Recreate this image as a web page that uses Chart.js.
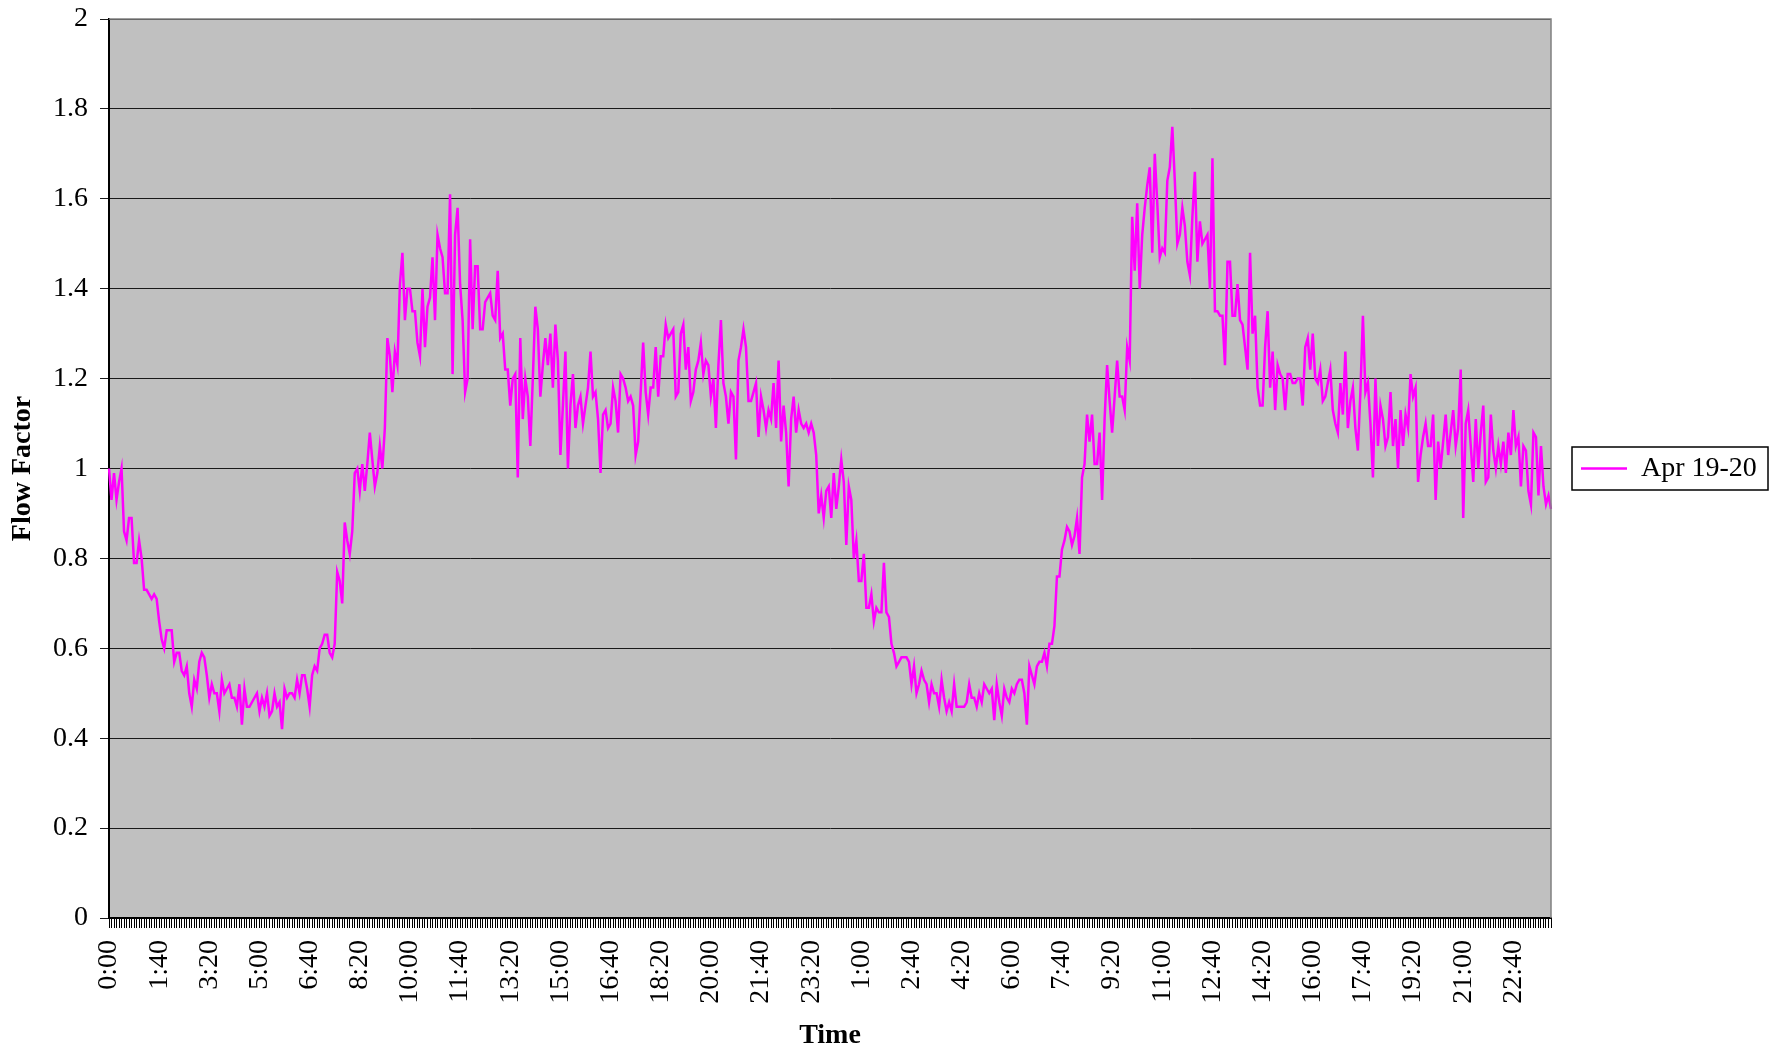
<!DOCTYPE html>
<html>
<head>
<meta charset="utf-8">
<title>Flow Factor</title>
<script src="https://cdn.jsdelivr.net/npm/chart.js@4.4.1/dist/chart.umd.min.js"></script>
<style>
  html, body { margin: 0; padding: 0; background: #ffffff; }
  #wrap { width: 1775px; height: 1053px; }
</style>
</head>
<body>
<div id="wrap"><canvas id="flowChart" width="1775" height="1053"></canvas></div>
<script>
// Two days of 5-minute flow factors, starting at midnight.
const seriesName = 'Apr 19-20';
const stepMinutes = 5;
const labelEvery = 20; // one time label every 100 minutes

const tickLabels = [
  '0:00', '1:40', '3:20', '5:00', '6:40', '8:20', '10:00', '11:40', '13:20', '15:00',
  '16:40', '18:20', '20:00', '21:40', '23:20', '1:00', '2:40', '4:20', '6:00', '7:40',
  '9:20', '11:00', '12:40', '14:20', '16:00', '17:40', '19:20', '21:00', '22:40'
];

// one row per 100-minute block
const flowFactor = [
  1.00,0.93,0.99,0.93,0.97,1.00,0.86,0.84,0.89,0.89,0.79,0.79,0.84,0.80,0.73,0.73,0.72,0.71,0.72,0.71,
  0.66,0.62,0.60,0.64,0.64,0.64,0.57,0.59,0.59,0.55,0.54,0.56,0.50,0.47,0.53,0.51,0.57,0.59,0.58,0.54,
  0.49,0.52,0.50,0.50,0.46,0.53,0.50,0.51,0.52,0.49,0.49,0.47,0.52,0.43,0.51,0.47,0.47,0.48,0.49,0.50,
  0.46,0.49,0.47,0.50,0.45,0.46,0.50,0.47,0.48,0.42,0.51,0.49,0.50,0.50,0.49,0.53,0.50,0.54,0.54,0.51,
  0.47,0.54,0.56,0.55,0.60,0.61,0.63,0.63,0.59,0.58,0.61,0.77,0.75,0.70,0.88,0.84,0.81,0.86,0.99,1.00,
  0.95,1.01,0.95,1.01,1.08,1.02,0.96,0.99,1.05,1.00,1.09,1.29,1.25,1.17,1.26,1.23,1.41,1.48,1.33,1.40,
  1.40,1.35,1.35,1.28,1.25,1.40,1.27,1.36,1.38,1.47,1.33,1.52,1.49,1.47,1.39,1.39,1.61,1.21,1.52,1.58,
  1.41,1.33,1.17,1.20,1.51,1.31,1.45,1.45,1.31,1.31,1.37,1.38,1.39,1.34,1.33,1.44,1.29,1.30,1.22,1.22,
  1.14,1.20,1.21,0.98,1.29,1.11,1.20,1.16,1.05,1.20,1.36,1.31,1.16,1.23,1.29,1.23,1.30,1.18,1.32,1.24,
  1.03,1.14,1.26,1.00,1.14,1.21,1.09,1.14,1.16,1.10,1.14,1.18,1.26,1.16,1.17,1.11,0.99,1.12,1.13,1.09,
  1.10,1.18,1.15,1.08,1.21,1.20,1.18,1.15,1.16,1.14,1.03,1.06,1.17,1.28,1.17,1.12,1.18,1.18,1.27,1.16,
  1.25,1.25,1.32,1.29,1.30,1.31,1.16,1.17,1.30,1.32,1.22,1.27,1.15,1.17,1.22,1.24,1.28,1.21,1.24,1.23,
  1.16,1.20,1.09,1.23,1.33,1.19,1.16,1.10,1.17,1.16,1.02,1.24,1.27,1.31,1.27,1.15,1.15,1.17,1.19,1.07,
  1.16,1.13,1.09,1.13,1.11,1.19,1.09,1.24,1.06,1.14,1.08,0.96,1.11,1.16,1.08,1.13,1.10,1.09,1.10,1.08,
  1.10,1.08,1.03,0.90,0.94,0.89,0.95,0.96,0.89,0.99,0.91,0.96,1.02,0.97,0.83,0.96,0.93,0.80,0.84,0.75,
  0.75,0.81,0.69,0.69,0.72,0.66,0.69,0.68,0.68,0.79,0.68,0.67,0.61,0.59,0.56,0.57,0.58,0.58,0.58,0.57,
  0.52,0.56,0.50,0.52,0.55,0.53,0.52,0.48,0.52,0.50,0.50,0.47,0.53,0.49,0.46,0.48,0.46,0.52,0.47,0.47,
  0.47,0.47,0.48,0.52,0.49,0.49,0.47,0.50,0.48,0.52,0.51,0.50,0.51,0.44,0.52,0.48,0.45,0.51,0.49,0.48,
  0.51,0.50,0.52,0.53,0.53,0.50,0.43,0.56,0.54,0.52,0.56,0.57,0.57,0.59,0.56,0.61,0.61,0.65,0.76,0.76,
  0.82,0.84,0.87,0.86,0.83,0.85,0.89,0.81,0.98,1.01,1.12,1.06,1.12,1.01,1.01,1.08,0.93,1.11,1.23,1.15,
  1.08,1.16,1.24,1.16,1.16,1.13,1.27,1.24,1.56,1.44,1.59,1.40,1.52,1.58,1.63,1.67,1.48,1.70,1.59,1.47,
  1.49,1.48,1.64,1.67,1.76,1.64,1.50,1.52,1.58,1.54,1.46,1.43,1.56,1.66,1.46,1.55,1.50,1.51,1.52,1.40,
  1.69,1.35,1.35,1.34,1.34,1.23,1.46,1.46,1.34,1.34,1.41,1.33,1.32,1.27,1.22,1.48,1.30,1.34,1.18,1.14,
  1.14,1.27,1.35,1.18,1.26,1.13,1.23,1.21,1.20,1.13,1.21,1.21,1.19,1.19,1.20,1.20,1.14,1.27,1.29,1.22,
  1.30,1.20,1.19,1.22,1.15,1.16,1.19,1.22,1.13,1.10,1.08,1.19,1.12,1.26,1.09,1.15,1.18,1.09,1.04,1.17,
  1.34,1.17,1.19,1.10,0.98,1.20,1.05,1.14,1.11,1.05,1.07,1.17,1.05,1.11,1.00,1.13,1.05,1.12,1.09,1.21,
  1.16,1.18,0.97,1.03,1.07,1.10,1.05,1.05,1.12,0.93,1.06,1.00,1.06,1.12,1.03,1.08,1.13,1.05,1.09,1.22,
  0.89,1.10,1.13,1.05,0.97,1.11,1.00,1.08,1.14,0.97,0.98,1.12,1.04,1.00,1.05,1.01,1.06,0.99,1.08,1.03,
  1.13,1.05,1.07,0.96,1.05,1.04,0.95,0.92,1.08,1.07,0.94,1.05,0.96,0.92,0.94,0.91
];

// category for each reading: clock time of day
const categories = flowFactor.map((_, i) => {
  const minutes = i * stepMinutes;
  const h = Math.floor(minutes / 60) % 24;
  const m = minutes % 60;
  return h + ':' + String(m).padStart(2, '0');
});

const SERIF = "'Liberation Serif', 'Times New Roman', Times, serif";
Chart.defaults.font.family = SERIF;
Chart.defaults.color = '#000000';

// grey plot area with a thin frame
const plotArea = {
  id: 'plotArea',
  beforeDraw(chart) {
    const { ctx, chartArea: a } = chart;
    ctx.save();
    ctx.fillStyle = '#C0C0C0';
    ctx.fillRect(a.left, a.top, a.right - a.left, a.bottom - a.top);
    ctx.restore();
  },
  afterDatasetsDraw(chart) {
    const { ctx, chartArea: a } = chart;
    ctx.save();
    ctx.strokeStyle = '#808080';
    ctx.lineWidth = 1.5;
    ctx.beginPath();
    ctx.moveTo(a.left, a.top);
    ctx.lineTo(a.right, a.top);
    ctx.lineTo(a.right, a.bottom);
    ctx.stroke();
    ctx.restore();
  }
};

// fixed-width legend column on the right, with a boxed entry
const legendFrame = {
  id: 'legendFrame',
  beforeLayout(chart) {
    const lg = chart.legend;
    if (lg && !lg._fixedWidth) {
      const fit = lg.fit.bind(lg);
      lg.fit = function () { fit(); this.width = 224; };
      lg._fixedWidth = true;
    }
  },
  afterDraw(chart) {
    const lg = chart.legend;
    if (!lg || !lg.legendHitBoxes || !lg.legendHitBoxes.length) return;
    const hb = lg.legendHitBoxes[0];
    const cy = hb.top + 14;
    const { ctx } = chart;
    ctx.save();
    ctx.strokeStyle = '#000000';
    ctx.lineWidth = 1.5;
    ctx.strokeRect(hb.left - 9, cy - 21.5, 196, 43);
    ctx.restore();
  }
};

// y labels as plain numbers: 0, 0.2, ... 1, ... 2
const formatFactor = (v) => String(Number(v.toFixed(1)));

new Chart(document.getElementById('flowChart'), {
  type: 'line',
  data: {
    labels: categories,
    datasets: [{
      label: seriesName,
      data: flowFactor,
      borderColor: '#FF00FF',
      backgroundColor: '#FF00FF',
      borderWidth: 2.5,
      pointRadius: 0,
      pointHoverRadius: 0,
      tension: 0,
      fill: false
    }]
  },
  options: {
    responsive: false,
    animation: false,
    devicePixelRatio: 1,
    layout: { padding: { left: 0, top: 19, right: 0, bottom: 0 } },
    plugins: {
      tooltip: { enabled: false },
      legend: {
        position: 'right',
        fullSize: false,
        labels: {
          usePointStyle: true,
          pointStyle: 'line',
          pointStyleWidth: 46,
          padding: 30,
          color: '#000000',
          font: { family: SERIF, size: 28 }
        }
      }
    },
    scales: {
      x: {
        type: 'category',
        offset: false,
        afterFit(scale) {
          scale.height = 135;
          scale.paddingLeft = 0;
          scale.paddingRight = 0;
        },
        ticks: {
          autoSkip: false,
          minRotation: 90,
          maxRotation: 90,
          padding: 12,
          color: '#000000',
          font: { family: SERIF, size: 28 },
          callback: (value, index) => (index % labelEvery === 0 ? tickLabels[index / labelEvery] : '')
        },
        grid: {
          display: true,
          drawOnChartArea: false,
          drawTicks: true,
          tickLength: 10,
          color: '#000000',
          lineWidth: 1
        },
        border: { display: true, color: '#000000', width: 2 },
        title: {
          display: true,
          text: 'Time',
          color: '#000000',
          font: { family: SERIF, size: 28, weight: 'bold' },
          padding: { top: 0, bottom: 0 }
        }
      },
      y: {
        min: 0,
        max: 2,
        afterFit(scale) {
          scale.width = 109;
          scale.paddingTop = 0;
          scale.paddingBottom = 0;
        },
        ticks: {
          stepSize: 0.2,
          padding: 12,
          color: '#000000',
          font: { family: SERIF, size: 28 },
          callback: (value) => formatFactor(value)
        },
        grid: {
          color: '#1a1a1a',
          lineWidth: 1,
          drawTicks: true,
          tickLength: 9
        },
        border: { display: true, color: '#000000', width: 2 },
        title: {
          display: true,
          text: 'Flow Factor',
          color: '#000000',
          font: { family: SERIF, size: 28, weight: 'bold' },
          padding: { top: 6, bottom: 0 }
        }
      }
    }
  },
  plugins: [plotArea, legendFrame]
});
</script>
</body>
</html>
